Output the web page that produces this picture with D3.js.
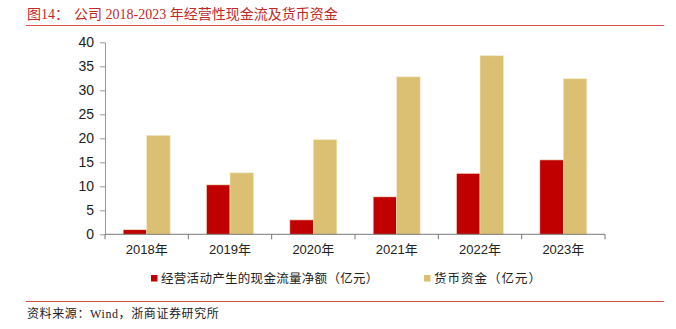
<!DOCTYPE html>
<html><head><meta charset="utf-8">
<script src="https://cdn.jsdelivr.net/npm/d3@7"></script>
<style>body{margin:0;background:#fff;}svg{display:block;}</style>
</head><body>
<svg id="c" width="676" height="329"></svg>
<script>
const categories = ["2018年","2019年","2020年","2021年","2022年","2023年"];
const seriesNames = ["经营活动产生的现金流量净额（亿元）","货币资金（亿元）"];
const cashFlow = [0.95, 10.3, 3.0, 7.8, 12.7, 15.5];
const monetaryFunds = [20.6, 12.8, 19.7, 32.8, 37.2, 32.4];
const yTicks = [0,5,10,15,20,25,30,35,40];
const colors = ["#C00000","#DBC073"];

(function(){
const svg = d3.select("#c");
const mLeft = 105, mRight = 605, mTop = 42.3, mBottom = 234.3;
const x = d3.scaleBand().domain(categories).range([mLeft, mRight]);
const xs = d3.scaleBand().domain([0,1]).range([0, 47]);
const y = d3.scaleLinear().domain([0,40]).range([mBottom, mTop]);
const cjk = "'Liberation Serif','Noto Sans CJK SC',serif";

// title
svg.append("text").attr("x",27).attr("y",19).attr("fill","#C0282A")
  .style("font-family",cjk).style("font-size","14px").text("图14：");
svg.append("text").attr("x",74).attr("y",19).attr("fill","#C0282A")
  .style("font-family",cjk).style("font-size","14px")
  .text("公司 2018-2023 年经营性现金流及货币资金");
svg.append("line").attr("x1",26).attr("x2",664).attr("y1",25.5).attr("y2",25.5)
  .attr("stroke","#D9534F").attr("stroke-width",1);

// bars
const data = [cashFlow, monetaryFunds];
data.forEach((vals,si)=>{
  svg.append("g").selectAll("rect").data(vals).join("rect")
    .attr("x",(d,i)=>x(categories[i]) + (x.bandwidth()-47)/2 + xs(si))
    .attr("width",xs.bandwidth())
    .attr("y",d=>y(d)).attr("height",d=>y(0)-y(d))
    .attr("fill",colors[si]).attr("stroke","#F3E6C4").attr("stroke-width",0.6);
});

// y axis
const ya = svg.append("g").attr("transform",`translate(${mLeft},0)`)
  .call(d3.axisLeft(y).tickValues(yTicks).tickSize(5).tickSizeOuter(0).tickPadding(6));
ya.select(".domain").attr("stroke","#999");
ya.selectAll(".tick line").attr("stroke","#999");
ya.selectAll("text").attr("fill","#222").style("font-family","'Liberation Sans',Arial,sans-serif").style("font-size","14px");

// x axis
const xa = svg.append("g").attr("transform",`translate(0,${mBottom})`)
  .call(d3.axisBottom(x).tickSize(0).tickPadding(10));
xa.select(".domain").attr("stroke","#777").attr("d",`M${mLeft},0H${mRight}`);
xa.selectAll("text").attr("fill","#222").style("font-family","'Liberation Sans','Noto Sans CJK SC',sans-serif").style("font-size","13px");
const bounds = categories.map(c=>x(c)).concat([mRight]);
svg.append("g").selectAll("line").data(bounds).join("line")
  .attr("x1",d=>d).attr("x2",d=>d).attr("y1",mBottom).attr("y2",mBottom+5)
  .attr("stroke","#777");

// legend
const lg = svg.append("g");
const legX = [151, 424];
seriesNames.forEach((n,i)=>{
  lg.append("rect").attr("x",legX[i]).attr("y",275).attr("width",6.5).attr("height",6.5).attr("fill",colors[i]);
  lg.append("text").attr("x",legX[i]+10).attr("y",283).attr("fill","#222")
    .style("font-family","'Noto Sans CJK SC',sans-serif").style("font-size","12.5px")
    .style("letter-spacing", i===1 ? "1px" : "0.3px").text(n);
});

// footer
svg.append("line").attr("x1",26).attr("x2",664).attr("y1",301.5).attr("y2",301.5)
  .attr("stroke","#D9534F").attr("stroke-width",1);
svg.append("text").attr("x",27).attr("y",318).attr("fill","#222")
  .style("font-family",cjk).style("font-size","12px").style("letter-spacing","0.6px")
  .text("资料来源：Wind，浙商证券研究所");
})();
</script>
</body></html>
